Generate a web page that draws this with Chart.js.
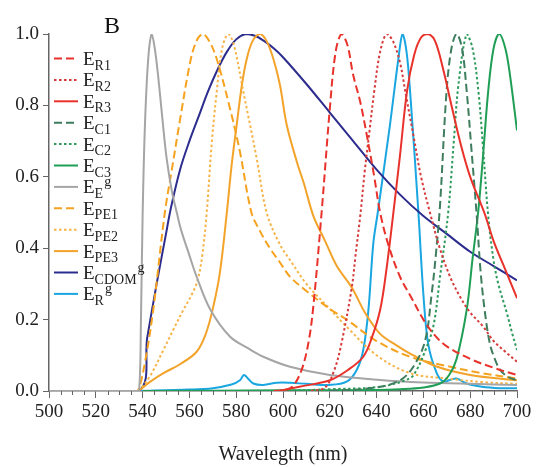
<!DOCTYPE html>
<html>
<head>
<meta charset="utf-8">
<script src="https://cdn.jsdelivr.net/npm/chart.js"></script>
<style>
  html, body { margin: 0; padding: 0; background: #fff; }
</style>
</head>
<body>
<canvas id="specChart" width="537" height="467"></canvas>
<script>
// Emission spectra (normalised)
const xTicks = [500, 520, 540, 560, 580, 600, 620, 640, 660, 680, 700];
const yTicks = [0.0, 0.2, 0.4, 0.6, 0.8, 1.0];

const r1Nm  = [596, 600, 604, 608, 611, 613, 616.5, 620, 622.5, 625, 627.5, 630, 633, 636, 639, 641.5, 645, 650, 655, 660, 665, 670, 680, 690, 700];
const r1Val = [0, 0.002, 0.012, 0.06, 0.14, 0.24, 0.5, 0.79, 0.95, 1.0, 0.97, 0.885, 0.81, 0.71, 0.6, 0.5, 0.41, 0.32, 0.26, 0.2, 0.155, 0.125, 0.09, 0.065, 0.045];

const r2Nm  = [612, 618, 622, 625, 629.4, 631, 633, 635, 637, 639, 641.5, 644.3, 647, 650, 652.5, 655.7, 659, 662.8, 667, 671.4, 676, 680, 685.6, 690, 695, 700];
const r2Val = [0, 0.01, 0.06, 0.134, 0.29, 0.38, 0.49, 0.62, 0.73, 0.84, 0.95, 1.0, 0.98, 0.92, 0.83, 0.717, 0.6, 0.5, 0.4, 0.32, 0.26, 0.22, 0.18, 0.14, 0.11, 0.082];

const r3Nm  = [598, 607, 620, 628, 634.3, 638, 641.5, 644, 647, 650, 653, 656, 659, 662, 665, 668.5, 672, 676, 680, 686, 690, 695, 700];
const r3Val = [0, 0.012, 0.03, 0.06, 0.096, 0.15, 0.227, 0.33, 0.49, 0.66, 0.84, 0.94, 0.99, 1.0, 0.98, 0.9, 0.8, 0.69, 0.6, 0.5, 0.42, 0.34, 0.26];

const c1Nm  = [620, 640, 650, 655.7, 660.7, 663.5, 665.3, 667.1, 669.9, 672, 674.2, 676.5, 678.5, 680.5, 682.8, 684.5, 686.5, 688.5, 690.5, 692.7, 696, 700];
const c1Val = [0, 0.01, 0.03, 0.068, 0.14, 0.27, 0.38, 0.52, 0.84, 0.96, 1.0, 0.96, 0.84, 0.68, 0.49, 0.33, 0.21, 0.13, 0.09, 0.06, 0.04, 0.03];

const c2Nm  = [600, 620, 641.5, 654.3, 657.1, 660, 664.2, 667.1, 670.6, 673, 675, 678.5, 681, 683.5, 685.5, 687.7, 689.9, 692, 695.6, 698, 700];
const c2Val = [0, 0.005, 0.012, 0.036, 0.059, 0.1, 0.18, 0.32, 0.5, 0.7, 0.86, 1.0, 0.96, 0.84, 0.68, 0.49, 0.37, 0.3, 0.22, 0.16, 0.115];

const c3Nm  = [540, 600, 640, 650, 660, 667.1, 671, 674.2, 678.5, 681, 683.5, 685.5, 687.7, 690, 692.4, 695, 697, 700];
const c3Val = [0, 0.002, 0.003, 0.005, 0.01, 0.021, 0.045, 0.09, 0.227, 0.37, 0.507, 0.66, 0.84, 0.96, 1.0, 0.96, 0.885, 0.73];

const eNm  = [500, 537, 538.5, 539.3, 540, 541, 542.4, 543.9, 545.2, 546.6, 548.5, 550.3, 552.5, 554.6, 556.5, 560, 563.1, 568.8, 577.4, 585, 591.6, 603, 620, 641.5, 660, 680, 700];
const eVal = [0, 0, 0, 0.2, 0.49, 0.745, 0.93, 1.0, 0.96, 0.885, 0.76, 0.65, 0.56, 0.5, 0.45, 0.38, 0.32, 0.23, 0.152, 0.12, 0.096, 0.068, 0.045, 0.031, 0.024, 0.02, 0.017];

const pe1Nm  = [536, 538, 541, 544.6, 549.5, 552.5, 556, 560.3, 563, 565.7, 568.5, 571.7, 577.4, 581.6, 586.5, 590, 594.4, 598.7, 603, 610, 620, 627.2, 640, 654.3, 670, 685, 700];
const pe1Val = [0, 0, 0.08, 0.23, 0.5, 0.62, 0.76, 0.92, 0.98, 1.0, 0.98, 0.93, 0.79, 0.67, 0.5, 0.45, 0.4, 0.36, 0.32, 0.28, 0.23, 0.2, 0.14, 0.096, 0.07, 0.05, 0.035];

const pe2Nm  = [536, 538, 543, 548.9, 553, 557.4, 561, 563.5, 565.5, 567.4, 569.5, 571.7, 574, 576.6, 579, 583, 588.8, 593, 598.7, 603, 610, 620, 627.2, 640, 654.3, 670, 685, 700];
const pe2Val = [0, 0, 0.04, 0.115, 0.17, 0.227, 0.27, 0.31, 0.38, 0.5, 0.69, 0.84, 0.96, 1.0, 0.97, 0.84, 0.65, 0.5, 0.41, 0.367, 0.3, 0.23, 0.18, 0.1, 0.05, 0.035, 0.025, 0.02];

const pe3Nm  = [536, 538, 543, 548.9, 556, 563.1, 567, 570, 573, 576, 578, 580.2, 582.5, 584.5, 587, 590.2, 593, 595.9, 598.7, 601.6, 606, 609, 613, 618, 623, 629.4, 635, 641.5, 648, 654.3, 665, 680, 700];
const pe3Val = [0, 0, 0.025, 0.05, 0.075, 0.11, 0.16, 0.23, 0.33, 0.5, 0.63, 0.745, 0.86, 0.93, 0.98, 1.0, 0.98, 0.93, 0.857, 0.745, 0.64, 0.58, 0.49, 0.42, 0.35, 0.29, 0.22, 0.16, 0.13, 0.105, 0.07, 0.045, 0.03];

const cdomNm  = [500, 538.2, 542, 546, 550, 552, 556, 560, 564, 568, 572, 576, 580, 584, 588, 592, 596, 600, 610, 620, 630, 640, 650, 660, 670, 680, 690, 700];
const cdomVal = [0, 0, 0.15, 0.3, 0.44, 0.51, 0.62, 0.7, 0.77, 0.84, 0.9, 0.95, 0.985, 1.0, 0.995, 0.98, 0.96, 0.935, 0.86, 0.78, 0.7, 0.62, 0.55, 0.49, 0.44, 0.39, 0.35, 0.31];

const rgNm  = [538, 560, 570, 578, 581.6, 583.3, 585, 587.3, 591.6, 597.3, 603, 610, 620, 627.2, 631.5, 634.3, 636.5, 638.6, 640.5, 645.7, 649.3, 651.1, 652.8, 654.3, 657.8, 660, 662.1, 665.7, 668.5, 671, 674.2, 678.5, 685, 692.7, 700];
const rgVal = [0, 0.004, 0.008, 0.018, 0.03, 0.045, 0.035, 0.021, 0.017, 0.023, 0.023, 0.02, 0.017, 0.026, 0.059, 0.115, 0.227, 0.414, 0.5, 0.745, 0.93, 1.0, 0.95, 0.84, 0.507, 0.27, 0.13, 0.05, 0.026, 0.03, 0.035, 0.021, 0.012, 0.008, 0.008];

const seriesNames = ['R1', 'R2', 'R3', 'C1', 'C2', 'C3', 'E', 'PE1', 'PE2', 'PE3', 'CDOM', 'R'];
const seriesSup   = ['', '', '', '', '', '', 'g', '', '', '', 'g', 'g'];

const DASH = [8, 4];
const DOT = [2.5, 2.5];
const FONT = "'Liberation Serif', 'Times New Roman', serif";

function pts(xs, ys) {
  return xs.map((x, i) => ({ x: x, y: ys[i] }));
}

function ds(name, xs, ys, color, dash) {
  return {
    label: name,
    data: pts(xs, ys),
    borderColor: color,
    borderDash: dash,
    borderWidth: 2,
    pointRadius: 0,
    fill: false,
    tension: 0.35
  };
}

const datasets = [
  ds('R1', r1Nm, r1Val, '#e8322b', DASH),
  ds('R2', r2Nm, r2Val, '#d63a3a', DOT),
  ds('R3', r3Nm, r3Val, '#e8322b', []),
  ds('C1', c1Nm, c1Val, '#3f7d5f', DASH),
  ds('C2', c2Nm, c2Val, '#2e9a5c', DOT),
  ds('C3', c3Nm, c3Val, '#1f9e55', []),
  ds('E', eNm, eVal, '#a5a5a5', []),
  ds('PE1', pe1Nm, pe1Val, '#f5a21f', DASH),
  ds('PE2', pe2Nm, pe2Val, '#f6b448', DOT),
  ds('PE3', pe3Nm, pe3Val, '#f3a32a', []),
  ds('CDOM', cdomNm, cdomVal, '#2c2c8e', []),
  ds('R', rgNm, rgVal, '#1aa6e0', [])
];

// legende avec indices / exposants + lettre B + petites graduations
const extras = {
  id: 'extras',
  afterDraw(chart) {
    const ctx = chart.ctx;
    const xs = chart.scales.x;
    const bottom = chart.chartArea.bottom;
    ctx.save();

    // minor ticks on x
    ctx.strokeStyle = '#666';
    ctx.lineWidth = 1;
    for (let v = xs.min + 5; v < xs.max; v += 5) {
      if (v % 20 === 0) continue;
      const px = Math.round(xs.getPixelForValue(v)) + 0.5;
      ctx.beginPath();
      ctx.moveTo(px, bottom);
      ctx.lineTo(px, bottom + 4);
      ctx.stroke();
    }

    // panel letter
    ctx.fillStyle = '#111';
    ctx.font = '24px ' + FONT;
    ctx.textBaseline = 'alphabetic';
    ctx.fillText('B', 104, 33);

    // legend
    chart.data.datasets.forEach((d, i) => {
      const y = 58.5 + i * 21.4;
      ctx.strokeStyle = d.borderColor;
      ctx.lineWidth = 2;
      ctx.setLineDash(d.borderDash);
      ctx.beginPath();
      ctx.moveTo(54, y);
      ctx.lineTo(78, y);
      ctx.stroke();
      ctx.setLineDash([]);

      ctx.fillStyle = '#222';
      ctx.font = '19px ' + FONT;
      ctx.fillText('E', 83, y + 6.5);
      const wE = ctx.measureText('E').width;
      ctx.font = '14px ' + FONT;
      ctx.fillText(seriesNames[i], 83 + wE, y + 11);
      const wS = ctx.measureText(seriesNames[i]).width;
      if (seriesSup[i]) ctx.fillText(seriesSup[i], 83 + wE + wS + 1, y - 1);
    });
    ctx.restore();
  }
};

new Chart(document.getElementById('specChart').getContext('2d'), {
  type: 'line',
  data: { datasets: datasets },
  plugins: [extras],
  options: {
    responsive: false,
    animation: false,
    layout: { padding: { top: 34, right: 20, left: 0, bottom: 0 } },
    plugins: {
      legend: { display: false },
      tooltip: { enabled: false }
    },
    scales: {
      x: {
        type: 'linear',
        min: 500,
        max: 700,
        border: { color: '#666', width: 1.5 },
        grid: { drawOnChartArea: false, tickLength: 7, color: '#666' },
        ticks: {
          stepSize: 20,
          autoSkip: false,
          maxRotation: 0,
          padding: 3,
          color: '#222',
          font: { family: FONT, size: 19 },
          callback: v => xTicks.includes(v) ? String(v) : ''
        },
        title: {
          display: true,
          text: 'Wavelegth (nm)',
          color: '#222',
          font: { family: FONT, size: 20 },
          padding: { top: 4, bottom: 0 }
        },
        afterFit: s => { s.height = 76; }
      },
      y: {
        min: 0,
        max: 1,
        border: { color: '#666', width: 1.5 },
        grid: { drawOnChartArea: false, tickLength: 6, color: '#666' },
        ticks: {
          stepSize: 0.2,
          padding: 4,
          color: '#222',
          font: { family: FONT, size: 19 },
          callback: v => yTicks.some(t => Math.abs(t - v) < 1e-6) ? v.toFixed(1) : ''
        },
        afterFit: s => { s.width = 49; }
      }
    }
  }
});
</script>
</body>
</html>
